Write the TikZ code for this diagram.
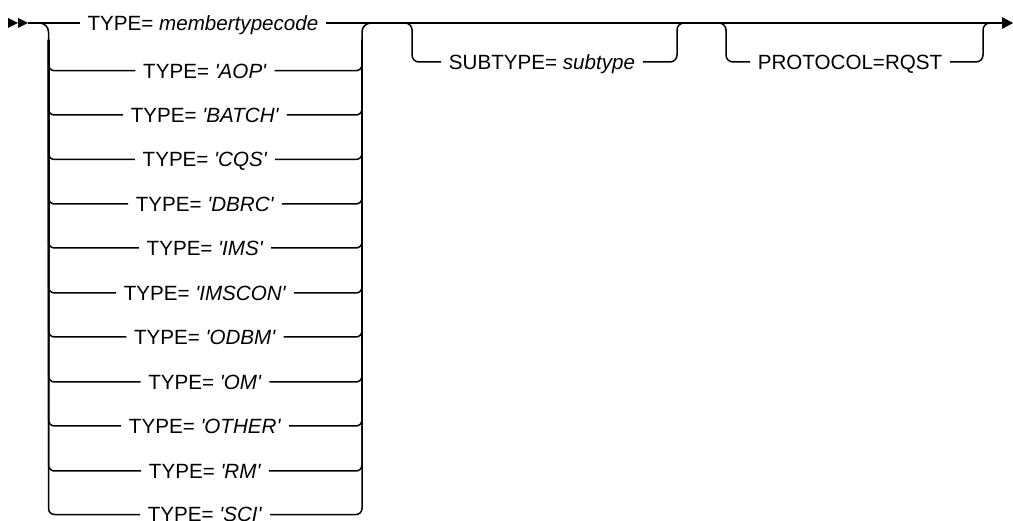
\documentclass[tikz,border=0pt]{standalone}
\usepackage{fontspec}
\setmainfont{Liberation Sans}[Ligatures=TeXOff]
\usetikzlibrary{calc}
\begin{document}
\begin{tikzpicture}[x=1pt,y=-1pt,line width=1.5pt,
  lbl/.style={font=\fontsize{20.6}{24}\selectfont, text height=14.7pt, text depth=0pt, inner xsep=7pt, inner ysep=0pt},
  rowbend/.style={rounded corners=6pt},
  topbend/.style={rounded corners=9pt}]
\useasboundingbox (0,0) rectangle (1013,521);
% named junction points
\coordinate (start) at (28,23);
\coordinate (LT) at (48.5,23);
\coordinate (LV) at (48.5,40);
\coordinate (RT) at (362,23);
\coordinate (RV) at (362,40);
\coordinate (SL) at (412,23);
\coordinate (SR) at (677,23);
\coordinate (PL) at (726,23);
\coordinate (PR) at (983,23);
\coordinate (end) at (1002,23);
\coordinate (tip) at (1013,23);
% start double arrowhead
\fill (8,18) -- (18,23) -- (8,28) -- cycle;
\fill (18,18) -- (start) -- (18,28) -- cycle;
% first choice group
\node[lbl] (t0) at (203,23) {TYPE= \textit{membertypecode}};
\draw (start) -- (t0.west);
\draw (t0.east) -- (end);
\draw[topbend] ($(LT)+(-10,0)$) -- (LT) -- (LV);
\draw[topbend] (RV) -- (RT) -- ($(RT)+(10,0)$);
\foreach \n/\y/\v in {1/70.7/AOP,2/115/BATCH,3/159.5/CQS,4/204/DBRC,5/248/IMS,6/293/IMSCON,7/337/ODBM,8/382/OM,9/426/OTHER,10/471/RM,11/514.5/SCI}{
  \node[lbl] (t\n) at (205,\y) {TYPE= \textit{'\v'}};
  \draw[rowbend] (t\n.west) -| (LV);
  \draw[rowbend] (t\n.east) -| (RV);
}
% SUBTYPE
\node[lbl] (st) at (542,62) {SUBTYPE= \textit{subtype}};
\draw[rounded corners=7pt] (st.west) -| (SL) -- ($(SL)+(-10,0)$);
\draw[rounded corners=7pt] (st.east) -| (SR) -- ($(SR)+(10,0)$);
% PROTOCOL
\node[lbl] (pr) at (850,62) {PROTOCOL=RQST};
\draw[rounded corners=7pt] (pr.west) -| (PL) -- ($(PL)+(-10,0)$);
\draw[rounded corners=7pt] (pr.east) -| (PR) -- ($(PR)+(10,0)$);
% end arrowhead
\fill (1002,17) -- (tip) -- (1002,29) -- cycle;
\end{tikzpicture}
\end{document}
